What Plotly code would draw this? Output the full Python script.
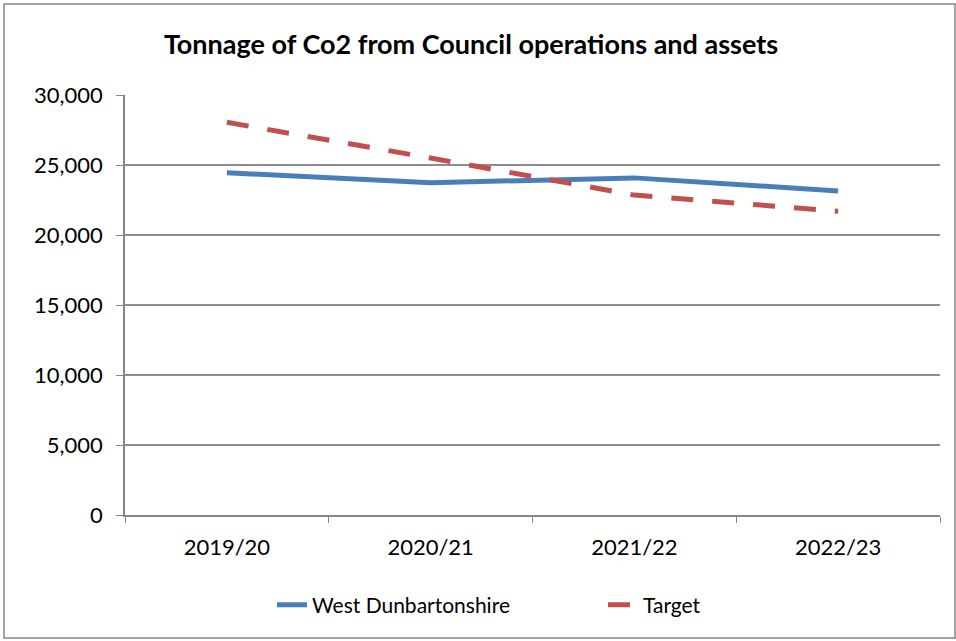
import plotly.graph_objects as go

categories = ["2019/20", "2020/21", "2021/22", "2022/23"]
west_dunbartonshire = [24450, 23730, 24080, 23150]
target = [28050, 25500, 22850, 21700]
y_ticks = [0, 5000, 10000, 15000, 20000, 25000, 30000]

FONT = "Lato"
W, H = 956, 641
L, R, T, B = 125, 16, 95, 126
pw, ph = W - L - R, H - T - B

def px(x):
    return (x - L) / pw

def py(y):
    return (H - B - y) / ph

fig = go.Figure()
fig.add_trace(go.Scatter(x=categories, y=west_dunbartonshire, mode="lines",
                         name="West Dunbartonshire",
                         line=dict(color="#4a7ebb", width=5)))
fig.add_trace(go.Scatter(x=categories, y=target, mode="lines", name="Target",
                         line=dict(color="#c0504d", width=5, dash="22px,19px")))

fig.update_layout(
    width=W, height=H,
    margin=dict(l=L, r=R, t=T, b=B),
    paper_bgcolor="white", plot_bgcolor="white",
    font=dict(family=FONT, size=22, color="#000000"),
    title=dict(text="<b>Tonnage of Co2 from Council operations and assets</b>",
               x=471 / W, xanchor="center", y=1 - 45 / H, yanchor="middle",
               font=dict(family=FONT, size=27, color="#000000")),
    showlegend=True,
    legend=dict(orientation="h", x=px(272), xanchor="left", y=py(605), yanchor="middle",
                font=dict(family=FONT, size=21), entrywidth=286),
    xaxis=dict(type="category", range=[-0.5, 3.5], showgrid=False,
               showline=True, linecolor="#868686", linewidth=1.5,
               ticks="outside", ticklen=6, tickcolor="#868686", tickson="boundaries",
               ticklabelstandoff=12,
               tickfont=dict(family=FONT, size=22)),
    yaxis=dict(range=[0, 30000], tickvals=y_ticks, tickformat=",",
               showgrid=True, gridcolor="#8c8c8c", gridwidth=1.5,
               showline=True, linecolor="#868686", linewidth=1.5,
               ticks="outside", ticklen=7, tickcolor="#868686",
               ticklabelstandoff=9,
               tickfont=dict(family=FONT, size=22), zeroline=False),
    shapes=[dict(type="rect", xref="paper", yref="paper",
                 x0=px(4), x1=px(955), y0=py(638), y1=py(4),
                 line=dict(color="#868686", width=1.5), layer="below")],
)

fig.write_html("out.html", config={"displayModeBar": False},
               post_script="document.body.style.margin='0';")
